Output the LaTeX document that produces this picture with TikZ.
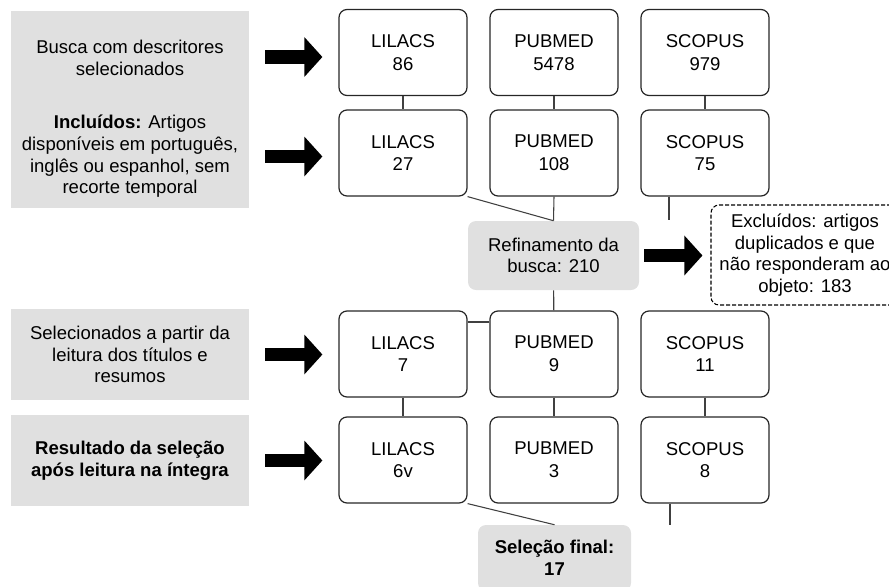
\documentclass[tikz,border=0pt]{standalone}
\usepackage{fontspec}
\setmainfont{Liberation Sans}
\usepackage{tikz}
\usetikzlibrary{positioning, arrows.meta, calc}

\definecolor{boxgray}{HTML}{E0E0E0}

\begin{document}
\begin{tikzpicture}[x=0.75pt, y=-0.75pt,
		font=\fontsize{13.9}{16.3}\selectfont,
		dbbox/.style={draw=black!85, line width=0.9pt, rounded corners=6pt, align=center,
			minimum width=96pt, minimum height=64.5pt, font=\fontsize{13.9}{17}\selectfont},
		graybox/.style={fill=boxgray, align=center, minimum width=178.5pt},
		softbox/.style={fill=boxgray, rounded corners=6pt, align=center},
		dashbox/.style={draw=black, line width=0.8pt, dash pattern=on 3pt off 1.5pt,
			rounded corners=6pt, align=center, minimum width=141pt, minimum height=75pt},
		link/.style={draw=black!75, line width=0.8pt},
		bigarrow/.style={line width=10pt, -{Triangle[length=13.5pt, width=29pt]},
			shorten <=12pt, shorten >=12pt}]
		\useasboundingbox (0,0) rectangle (889,586);
		
		% Step labels (left column)
		\node[graybox, minimum height=70.5pt] (busca) at (130,58) {Busca com descritores\\selecionados};
		\node[graybox, minimum height=77.25pt] (incl) at (130,156.5) {\textbf{Incluídos:} Artigos\\disponíveis em português,\\inglês ou espanhol, sem\\recorte temporal};
		\node[graybox, minimum height=68.25pt] (leit) at (130,354.5) {Selecionados a partir da\\leitura dos títulos e\\resumos};
		\node[graybox, minimum height=68.25pt] (integ) at (130,460.5) {\textbf{Resultado da seleção}\\\textbf{após leitura na íntegra}};
		
		% Databases, row by row
		\node[dbbox] (lil1) at (403,52.5) {LILACS\\86};
		\node[dbbox] (pub1) at (554,52.5) {PUBMED\\5478};
		\node[dbbox] (sco1) at (705,52.5) {SCOPUS\\979};
		
		\node[dbbox] (lil2) at (403,153) {LILACS\\27};
		\node[dbbox] (pub2) at (554,153) {PUBMED\\108};
		\node[dbbox] (sco2) at (705,153) {SCOPUS\\75};
		
		\node[dbbox] (lil3) at (403,354) {LILACS\\7};
		\node[dbbox] (pub3) at (554,354) {PUBMED\\9};
		\node[dbbox] (sco3) at (705,354) {SCOPUS\\11};
		
		\node[dbbox] (lil4) at (403,460) {LILACS\\6v};
		\node[dbbox] (pub4) at (554,460) {PUBMED\\3};
		\node[dbbox] (sco4) at (705,460) {SCOPUS\\8};
		
		% Refinement and final selection
		\node[softbox, minimum width=128.25pt, minimum height=51.75pt] (refin) at (553.5,255.5) {Refinamento da\\busca: 210};
		\node[dashbox] (excl) at (805,255) {Excluídos: artigos\\duplicados e que\\não responderam ao\\objeto: 183};
		\node[softbox, minimum width=114.75pt, minimum height=49.5pt] (fin) at (554.5,558) {\textbf{Seleção final:}\\\textbf{17}};
		
		% loose ends
		\coordinate (stubA) at (669,220);
		\coordinate (stubB) at (670,525);
		
		% connections
		\foreach \c in {lil,pub,sco} {
			\draw[link] (\c1) -- (\c2);
			\draw[link] (\c3) -- (\c4);
		}
		\draw[link] (lil2.south east) -- (refin.north);
		\draw[link] (pub2.south) -- (refin.north);
		\draw[link] (stubA |- sco2.south) -- (stubA);
		\draw[link] (refin) -- (pub3);
		\draw[link] ([shift={(0,-32)}]lil3.east) -- ([shift={(0,-32)}]pub3.west);
		\draw[link] (lil4.south east) -- (fin.north);
		\draw[link] (stubB |- sco4.south) -- (stubB);
		
		% block arrows
		\draw[bigarrow] ([shift={(0,-1)}]busca.east) -- ([shift={(0,-1)}]busca.east -| lil1.west);
		\foreach \s/\d in {incl/lil2, leit/lil3, integ/lil4} {
			\draw[bigarrow] (\s.east) -- (\s.east -| \d.west);
		}
		\draw[bigarrow, shorten <=3.75pt, shorten >=6pt] (refin.east) -- (refin.east -| excl.west);
	\end{tikzpicture}
\end{document}
